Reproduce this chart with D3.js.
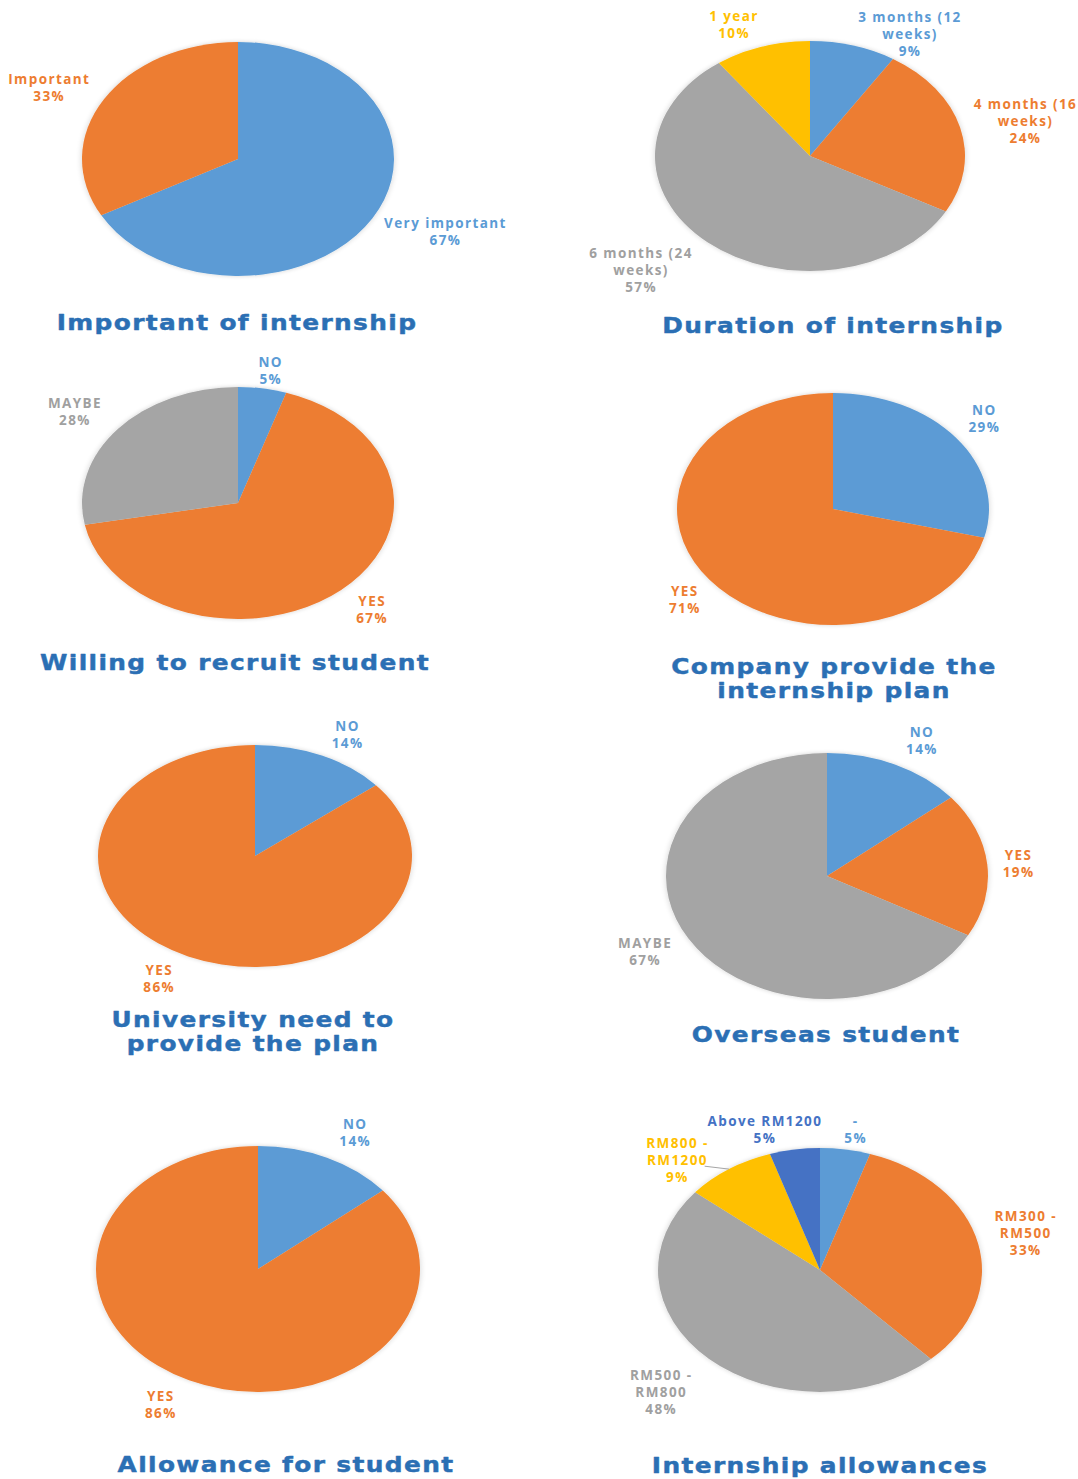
<!DOCTYPE html>
<html>
<head>
<meta charset="utf-8">
<script src="https://cdn.jsdelivr.net/npm/d3@7"></script>
<style>
  html, body { margin: 0; padding: 0; background: #ffffff; }
  svg { display: block; }
  .slice-label { font-family: "Open Sans", sans-serif; font-weight: 700; font-size: 13.5px; letter-spacing: 1.4px; }
  .chart-title { font-family: "DejaVu Sans", sans-serif; font-weight: bold; font-size: 22px; letter-spacing: 1.2px;
                 fill: #2b6fb4; stroke: #2b6fb4; stroke-width: 0.45px; stroke-linejoin: round; }
</style>
</head>
<body>
<script>
// ---- Survey results (percent of respondents) ----
const importanceCategories = ["Very important", "Important"];
const importanceValues = [67, 33];

const durationCategories = ["3 months (12 weeks)", "4 months (16 weeks)", "6 months (24 weeks)", "1 year"];
const durationValues = [9, 24, 57, 10];

const recruitCategories = ["NO", "YES", "MAYBE"];
const recruitValues = [5, 67, 28];

const companyPlanCategories = ["NO", "YES"];
const companyPlanValues = [29, 71];

const universityPlanCategories = ["NO", "YES"];
const universityPlanValues = [14, 86];

const overseasCategories = ["NO", "YES", "MAYBE"];
const overseasValues = [14, 19, 67];

const allowanceCategories = ["NO", "YES"];
const allowanceValues = [14, 86];

const allowanceRangeCategories = ["-", "RM300 - RM500", "RM500 - RM800", "RM800 - RM1200", "Above RM1200"];
const allowanceRangeValues = [5, 33, 48, 9, 5];

// ---- Palette (Office theme) ----
const palette = {
  blue: "#5b9bd5", orange: "#ed7d31", gray: "#a5a5a5", yellow: "#ffc000", navy: "#4472c4"
};
const labelInk = {
  blue: "#5b9bd5", orange: "#ed7d31", gray: "#a0a0a0", yellow: "#ffc000", navy: "#4472c4"
};

// Category names that are wrapped onto two lines in the slice labels
const wrappedNames = {
  "3 months (12 weeks)": ["3 months (12", "weeks)"],
  "4 months (16 weeks)": ["4 months (16", "weeks)"],
  "6 months (24 weeks)": ["6 months (24", "weeks)"],
  "RM300 - RM500": ["RM300 -", "RM500"],
  "RM500 - RM800": ["RM500 -", "RM800"],
  "RM800 - RM1200": ["RM800 -", "RM1200"]
};

// ---- Panel layout: centre, radii, title and label spots (label spots in radius units) ----
const charts = [
  { title: ["Important of internship"], cats: importanceCategories, vals: importanceValues,
    colors: ["blue", "orange"],
    cx: 238, cy: 159, rx: 156, ry: 117, titleX: 237, titleY: 322,
    spots: [[1.33, 0.62], [-1.21, -0.61]] },
  { title: ["Duration of internship"], cats: durationCategories, vals: durationValues,
    colors: ["blue", "orange", "gray", "yellow"],
    cx: 810, cy: 156, rx: 155, ry: 115, titleX: 833, titleY: 325,
    spots: [[0.645, -1.06], [1.39, -0.30], [-1.09, 0.99], [-0.49, -1.14]] },
  { title: ["Willing to recruit student"], cats: recruitCategories, vals: recruitValues,
    colors: ["blue", "orange", "gray"],
    cx: 238, cy: 503, rx: 156, ry: 116, titleX: 235, titleY: 662,
    spots: [[0.21, -1.14], [0.86, 0.92], [-1.045, -0.79]] },
  { title: ["Company provide the", "internship plan"], cats: companyPlanCategories, vals: companyPlanValues,
    colors: ["blue", "orange"],
    cx: 833, cy: 509, rx: 156, ry: 116, titleX: 834, titleY: 666,
    spots: [[0.97, -0.78], [-0.95, 0.78]] },
  { title: ["University need to", "provide the plan"], cats: universityPlanCategories, vals: universityPlanValues,
    colors: ["blue", "orange"],
    cx: 255, cy: 856, rx: 157, ry: 111, titleX: 253, titleY: 1019,
    spots: [[0.59, -1.09], [-0.61, 1.11]] },
  { title: ["Overseas student"], cats: overseasCategories, vals: overseasValues,
    colors: ["blue", "orange", "gray"],
    cx: 827, cy: 876, rx: 161, ry: 123, titleX: 826, titleY: 1034,
    spots: [[0.59, -1.10], [1.19, -0.10], [-1.13, 0.62]] },
  { title: ["Allowance for student"], cats: allowanceCategories, vals: allowanceValues,
    colors: ["blue", "orange"],
    cx: 258, cy: 1269, rx: 162, ry: 123, titleX: 286, titleY: 1464,
    spots: [[0.60, -1.11], [-0.60, 1.10]] },
  { title: ["Internship allowances"], cats: allowanceRangeCategories, vals: allowanceRangeValues,
    colors: ["blue", "orange", "gray", "yellow", "navy"],
    cx: 820, cy: 1270, rx: 162, ry: 122, titleX: 820, titleY: 1465,
    spots: [[0.22, -1.15], [1.27, -0.30], [-0.98, 1.0], [-0.88, -0.90], [-0.34, -1.15]],
    leaders: [3] }
];

const W = 1078, H = 1479;
const titleStretch = 1.13;
const svg = d3.select("body").append("svg").attr("width", W).attr("height", H);

// soft halo around each pie
const defs = svg.append("defs");
const halo = defs.append("filter").attr("id", "halo")
  .attr("x", "-15%").attr("y", "-15%").attr("width", "130%").attr("height", "130%");
halo.append("feGaussianBlur").attr("in", "SourceAlpha").attr("stdDeviation", 3).attr("result", "b");
halo.append("feComponentTransfer").attr("in", "b").attr("result", "s")
  .append("feFuncA").attr("type", "linear").attr("slope", 0.18);
const merge = halo.append("feMerge");
merge.append("feMergeNode").attr("in", "s");
merge.append("feMergeNode").attr("in", "SourceGraphic");

const pie = d3.pie().sort(null).value(d => d.value);
const lineH = 17;

charts.forEach(ch => {
  const rows = ch.cats.map((c, i) => ({ name: c, value: ch.vals[i], color: ch.colors[i] }));
  const arcs = pie(rows);
  const arc = d3.arc().innerRadius(0).outerRadius(ch.rx);
  const sy = ch.ry / ch.rx;

  // slices: a circular pie squashed vertically into an ellipse
  svg.append("g")
    .attr("transform", `translate(${ch.cx},${ch.cy}) scale(1,${sy})`)
    .attr("filter", "url(#halo)")
    .selectAll("path").data(arcs).join("path")
    .attr("d", arc)
    .attr("fill", d => palette[d.data.color]);

  // slice labels: category (wrapped) + percentage
  arcs.forEach((a, i) => {
    const [ux, uy] = ch.spots[i];
    const x = ch.cx + ux * ch.rx, y = ch.cy + uy * ch.ry;
    const lines = (wrappedNames[a.data.name] || [a.data.name]).concat([a.data.value + "%"]);
    const t = svg.append("text").attr("class", "slice-label")
      .attr("text-anchor", "middle").attr("fill", labelInk[a.data.color]);
    const y0 = y - (lines.length - 1) * lineH / 2;
    lines.forEach((ln, k) => {
      t.append("tspan").attr("x", x).attr("y", y0 + k * lineH).attr("dy", "0.35em").text(ln);
    });

    if (ch.leaders && ch.leaders.includes(i)) {
      // leader from label edge to slice rim at mid-angle
      const mid = (a.startAngle + a.endAngle) / 2;
      const rimX = ch.cx + Math.sin(mid) * ch.rx;
      const rimY = ch.cy - Math.cos(mid) * ch.ry;
      const bb = t.node().getBBox();
      svg.append("line")
        .attr("x1", bb.x + bb.width - 4).attr("y1", y0 + lineH + 6)
        .attr("x2", rimX).attr("y2", rimY)
        .attr("stroke", "#a6a6a6").attr("stroke-width", 1);
    }
  });

  // panel title, in a heavy face stretched a little wider
  const tt = svg.append("text").attr("class", "chart-title").attr("text-anchor", "middle")
    .attr("transform", `translate(${ch.titleX},0) scale(${titleStretch},1) translate(${-ch.titleX},0)`);
  ch.title.forEach((ln, k) => {
    tt.append("tspan").attr("x", ch.titleX).attr("y", ch.titleY + k * 24).attr("dy", "0.35em").text(ln);
  });
});
</script>
</body>
</html>
